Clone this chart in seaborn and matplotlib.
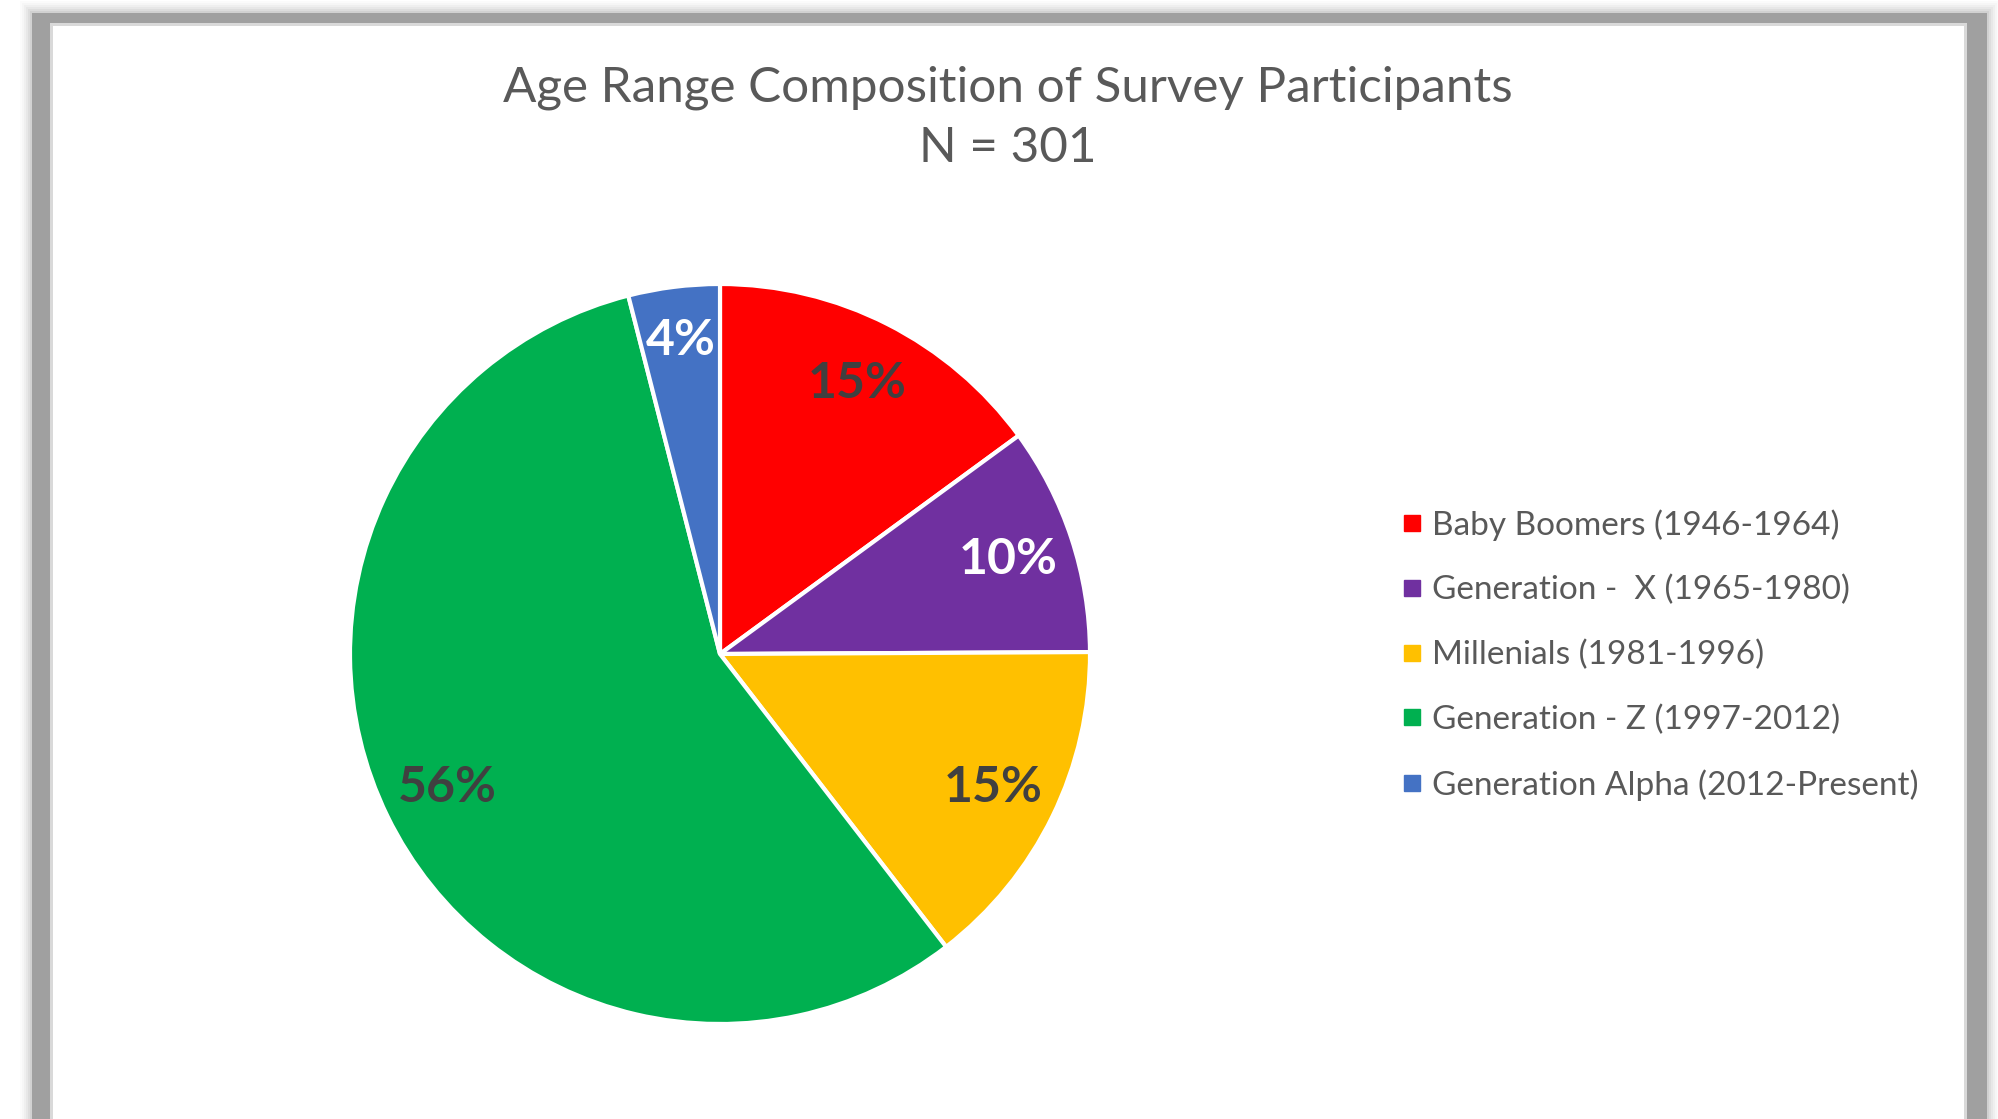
"""
Pie chart: age range composition of survey participants.
"""
import numpy as np
import matplotlib
matplotlib.use("Agg")
import matplotlib.pyplot as plt
from matplotlib.patches import Rectangle
from matplotlib.lines import Line2D
import seaborn as sns

generations = [
    "Baby Boomers (1946-1964)",
    "Generation -  X (1965-1980)",
    "Millenials (1981-1996)",
    "Generation - Z (1997-2012)",
    "Generation Alpha (2012-Present)",
]
counts = [45, 30, 44, 170, 12]
slice_colors = ["#FF0000", "#7030A0", "#FFC000", "#00B050", "#4472C4"]
label_colors = ["#404040", "#FFFFFF", "#404040", "#404040", "#FFFFFF"]
title = "Age Range Composition of Survey Participants\nN = 301"

W, H, DPI = 1999, 1119, 100
sns.set_theme(style="white")
plt.rcParams["font.family"] = ["Lato", "DejaVu Sans"]
palette = sns.color_palette(slice_colors)

fig = plt.figure(figsize=(W / DPI, H / DPI), dpi=DPI, facecolor="white")


def fx(px):
    return px / W


def fy(py):
    return 1 - py / H


# soft shadow + gray frame like an exported office chart
for k, a in zip(range(12, 0, -2), [0.03, 0.04, 0.05, 0.07, 0.09, 0.12]):
    fig.add_artist(Rectangle((fx(32 - k), fy(1200)), fx(1955 + 2 * k), fy(13 - k) - fy(1200),
                             transform=fig.transFigure, facecolor="#808080", alpha=a,
                             edgecolor="none", zorder=0))
fig.add_artist(Rectangle((fx(32), fy(1200)), fx(1955), fy(13) - fy(1200),
                         transform=fig.transFigure, facecolor="#A0A0A0",
                         edgecolor="none", zorder=1))
fig.add_artist(Rectangle((fx(50), fy(1200)), fx(1917), fy(23) - fy(1200),
                         transform=fig.transFigure, facecolor="#D9D9D9",
                         edgecolor="none", zorder=2))
fig.add_artist(Rectangle((fx(53), fy(1200)), fx(1911), fy(26) - fy(1200),
                         transform=fig.transFigure, facecolor="white",
                         edgecolor="none", zorder=3))

# pie axes, centre (720, 654), radius 370 px
cx, cy, r = 720, 654, 370
pad = 1.02
ax = fig.add_axes([fx(cx - r * pad), fy(cy + r * pad), fx(2 * r * pad), (2 * r * pad) / H])
ax.set_zorder(5)
wedges, texts, autotexts = ax.pie(
    counts, colors=palette, startangle=90, counterclock=False,
    autopct=lambda p: f"{p:.0f}%", pctdistance=0.82,
    wedgeprops=dict(edgecolor="white", linewidth=3),
    textprops=dict(fontsize=36, fontweight="bold"),
)
for t, c in zip(autotexts, label_colors):
    t.set_color(c)
# small slice label sits a little further out
x, y = autotexts[-1].get_position()
autotexts[-1].set_position((x * 1.04, y * 1.04))
ax.set_xlim(-pad, pad)
ax.set_ylim(-pad, pad)
ax.set_aspect("auto")
ax.axis("off")

fig.text(fx(1008), fy(118), title, ha="center", va="center", fontsize=35.6,
         color="#595959", linespacing=1.45, zorder=6)

handles = [Line2D([], [], marker="s", linestyle="", markersize=11,
                  markerfacecolor=c, markeredgecolor=c) for c in slice_colors]
leg = fig.legend(handles, generations, loc="center left",
                 bbox_to_anchor=(fx(1390), fy(655)), frameon=False,
                 fontsize=24, labelcolor="#595959", handlelength=0.55,
                 handletextpad=0.3, labelspacing=1.03, borderaxespad=0)
leg.set_zorder(6)

fig.savefig("out.png", dpi=DPI, facecolor="white")
plt.close()
